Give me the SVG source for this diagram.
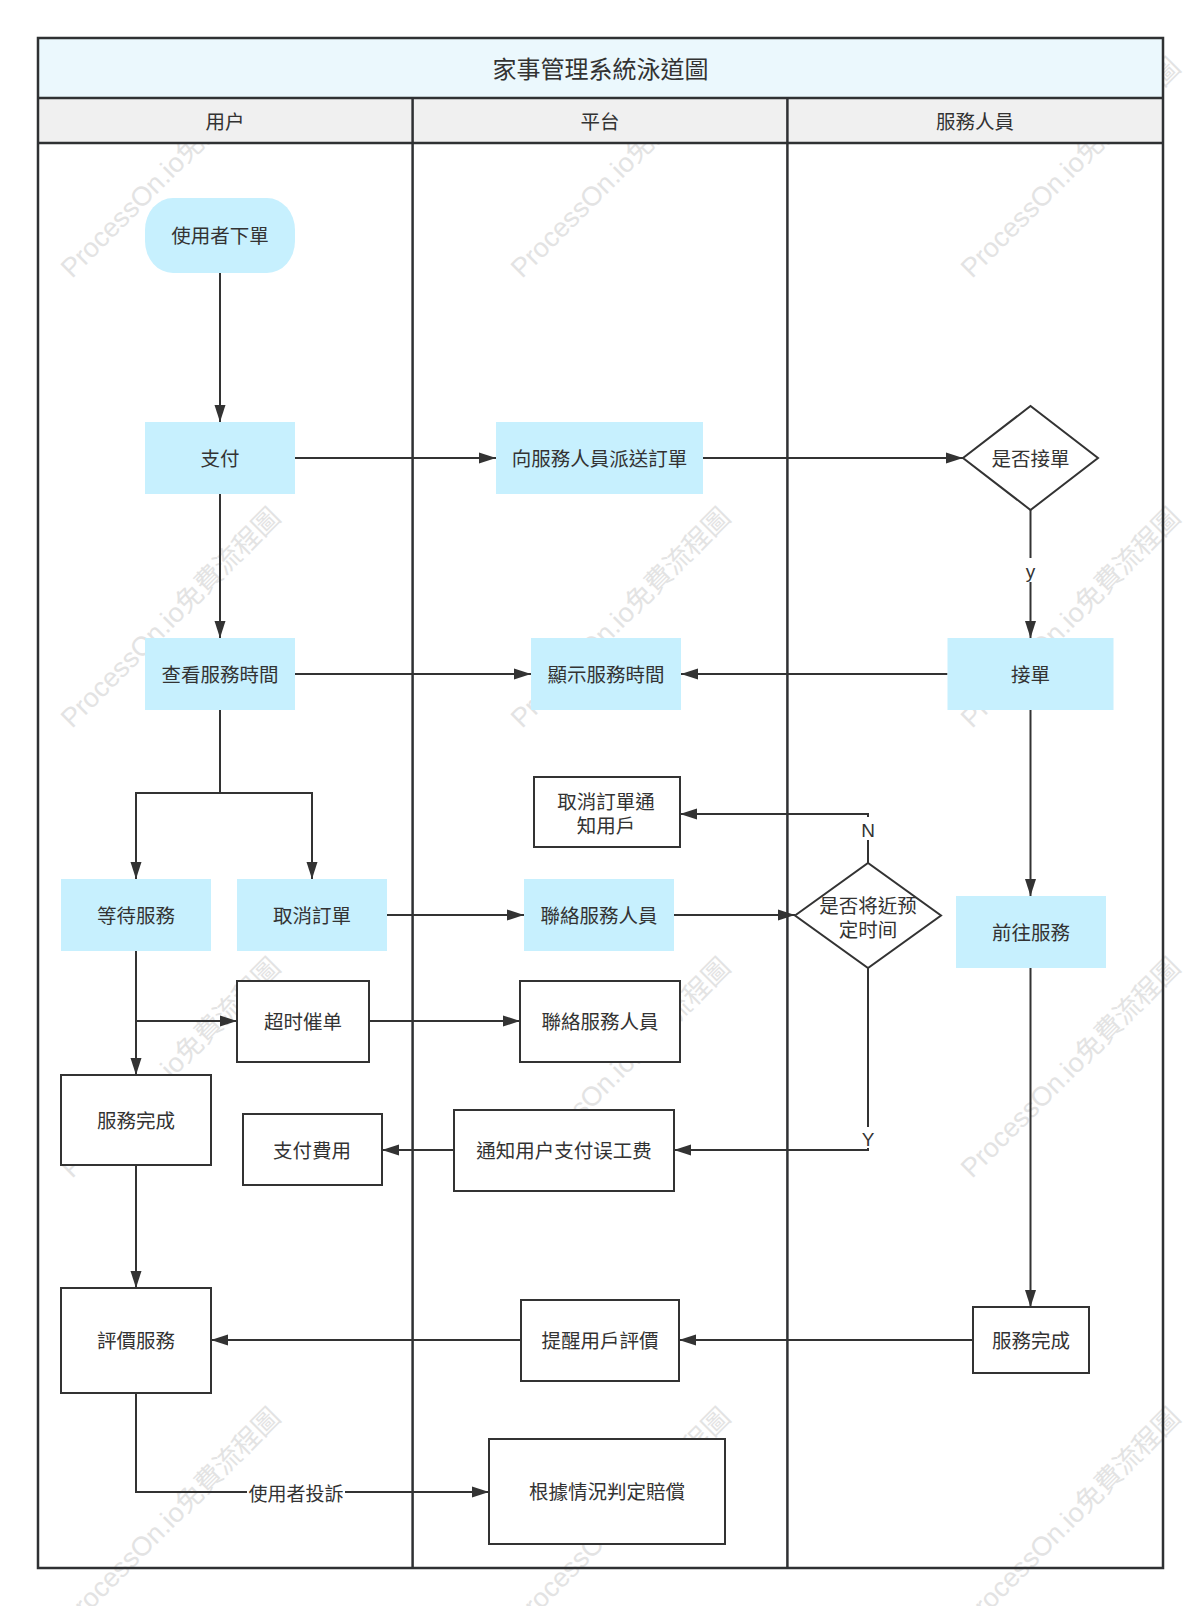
<svg xmlns="http://www.w3.org/2000/svg" width="1200" height="1606" viewBox="0 0 1200 1606">
<defs>
<style>
.frame{fill:none;stroke:#2f3133;stroke-width:2.5}
.edge{fill:none;stroke:#333;stroke-width:2;marker-end:url(#arrow)}
.cyan{fill:#C7F0FE}
.box{fill:#fff;stroke:#333;stroke-width:2}
.t{font-family:"Liberation Sans","Noto Sans CJK TC",sans-serif;font-size:19.5px;fill:#333;text-anchor:middle;dominant-baseline:central;transform:translateY(1px)}
.title{font-size:24px}
.lbl{font-size:19px}
.wm{font-family:"Liberation Sans","Noto Sans CJK TC",sans-serif;font-size:27px;fill:#e3e3e3}
</style>
<marker id="arrow" markerUnits="userSpaceOnUse" markerWidth="18" markerHeight="12" refX="17" refY="6" orient="auto">
<path d="M0,0.5 L17,6 L0,11.5 z" fill="#333"/>
</marker>
</defs>
<rect x="0" y="0" width="1200" height="1606" fill="#fff"/>
<g id="watermark">
<text class="wm" x="72" y="279" transform="rotate(-45 72 279)">ProcessOn.io免費流程圖</text>
<text class="wm" x="522" y="279" transform="rotate(-45 522 279)">ProcessOn.io免費流程圖</text>
<text class="wm" x="972" y="279" transform="rotate(-45 972 279)">ProcessOn.io免費流程圖</text>
<text class="wm" x="72" y="729" transform="rotate(-45 72 729)">ProcessOn.io免費流程圖</text>
<text class="wm" x="522" y="729" transform="rotate(-45 522 729)">ProcessOn.io免費流程圖</text>
<text class="wm" x="972" y="729" transform="rotate(-45 972 729)">ProcessOn.io免費流程圖</text>
<text class="wm" x="72" y="1179" transform="rotate(-45 72 1179)">ProcessOn.io免費流程圖</text>
<text class="wm" x="522" y="1179" transform="rotate(-45 522 1179)">ProcessOn.io免費流程圖</text>
<text class="wm" x="972" y="1179" transform="rotate(-45 972 1179)">ProcessOn.io免費流程圖</text>
<text class="wm" x="72" y="1629" transform="rotate(-45 72 1629)">ProcessOn.io免費流程圖</text>
<text class="wm" x="522" y="1629" transform="rotate(-45 522 1629)">ProcessOn.io免費流程圖</text>
<text class="wm" x="972" y="1629" transform="rotate(-45 972 1629)">ProcessOn.io免費流程圖</text>
</g>
<g id="swimlane">
<rect x="38" y="38" width="1125" height="60" fill="#EBF8FD"/>
<rect x="38" y="98" width="1125" height="45" fill="#F0F0F0"/>
<rect class="frame" x="38" y="38" width="1125" height="1530"/>
<line class="frame" x1="38" y1="98" x2="1163" y2="98"/>
<line class="frame" x1="38" y1="143" x2="1163" y2="143"/>
<line class="frame" x1="412.6" y1="98" x2="412.6" y2="1568"/>
<line class="frame" x1="787.4" y1="98" x2="787.4" y2="1568"/>
<text class="t title" x="600.5" y="68">家事管理系統泳道圖</text>
<text class="t" x="225" y="120.5">用户</text>
<text class="t" x="600" y="120.5">平台</text>
<text class="t" x="975" y="120.5">服務人員</text>
</g>
<g id="connectors">
<line class="edge" x1="220" y1="273" x2="220" y2="422"/>
<line class="edge" x1="220" y1="494" x2="220" y2="638"/>
<line class="edge" x1="295" y1="458" x2="496" y2="458"/>
<line class="edge" x1="703" y1="458" x2="963" y2="458"/>
<line class="edge" x1="1030.5" y1="510" x2="1030.5" y2="638"/>
<rect x="1022" y="558" width="17" height="24" fill="#fff"/>
<text class="t lbl" x="1030.5" y="570">y</text>
<line class="edge" x1="295" y1="674" x2="531" y2="674"/>
<line class="edge" x1="947.5" y1="674" x2="681" y2="674"/>
<path class="edge" d="M220,710 V793 H136 V879"/>
<path class="edge" d="M220,793 H312 V879"/>
<line class="edge" x1="387" y1="915" x2="524" y2="915"/>
<line class="edge" x1="674" y1="915" x2="795" y2="915"/>
<path class="edge" d="M868,863 V814 H680"/>
<rect x="859" y="817" width="18" height="23" fill="#fff"/>
<text class="t lbl" x="868" y="829">N</text>
<path class="edge" d="M868,968 V1150 H674"/>
<rect x="859" y="1127" width="18" height="21" fill="#fff"/>
<text class="t lbl" x="868" y="1138">Y</text>
<line class="edge" x1="1030.5" y1="710" x2="1030.5" y2="896"/>
<line class="edge" x1="136" y1="951" x2="136" y2="1075"/>
<line class="edge" x1="136" y1="1021" x2="237" y2="1021"/>
<line class="edge" x1="369" y1="1021" x2="520" y2="1021"/>
<line class="edge" x1="454" y1="1150" x2="382" y2="1150"/>
<line class="edge" x1="136" y1="1165" x2="136" y2="1288"/>
<line class="edge" x1="1030.5" y1="968" x2="1030.5" y2="1307"/>
<line class="edge" x1="973" y1="1340" x2="679" y2="1340"/>
<line class="edge" x1="521" y1="1340" x2="211" y2="1340"/>
<path class="edge" d="M136,1393 V1492 H489"/>
<rect x="247" y="1480" width="98" height="24" fill="#fff"/>
<text class="t lbl" x="296" y="1493">使用者投訴</text>
</g>
<g id="n-order"><rect class="cyan" x="145" y="198" width="150" height="75" rx="28" ry="32"/><text class="t" x="220" y="235">使用者下單</text></g>
<g id="n-pay"><rect class="cyan" x="145" y="422" width="150" height="72"/><text class="t" x="220" y="458">支付</text></g>
<g id="n-check-time"><rect class="cyan" x="145" y="638" width="150" height="72"/><text class="t" x="220" y="674">查看服務時間</text></g>
<g id="n-dispatch"><rect class="cyan" x="496" y="422" width="207" height="72"/><text class="t" x="599.5" y="458">向服務人員派送訂單</text></g>
<g id="n-accept-q"><polygon class="box" points="963,458 1030.5,406 1098,458 1030.5,510"/><text class="t" x="1030.5" y="458">是否接單</text></g>
<g id="n-accept"><rect class="cyan" x="947.5" y="638" width="166" height="72"/><text class="t" x="1030.5" y="674">接單</text></g>
<g id="n-show-time"><rect class="cyan" x="531" y="638" width="150" height="72"/><text class="t" x="606" y="674">顯示服務時間</text></g>
<g id="n-cancel-notify"><rect class="box" x="534" y="777" width="146" height="70"/><text class="t" x="606" y="801">取消訂單通</text><text class="t" x="606" y="825">知用戶</text></g>
<g id="n-wait"><rect class="cyan" x="61" y="879" width="150" height="72"/><text class="t" x="136" y="915">等待服務</text></g>
<g id="n-cancel"><rect class="cyan" x="237" y="879" width="150" height="72"/><text class="t" x="312" y="915">取消訂單</text></g>
<g id="n-contact1"><rect class="cyan" x="524" y="879" width="150" height="72"/><text class="t" x="599" y="915">聯絡服務人員</text></g>
<g id="n-near-q"><polygon class="box" points="795,915.5 868,863 941,915.5 868,968"/><text class="t" x="868" y="905">是否将近预</text><text class="t" x="868" y="929">定时间</text></g>
<g id="n-goto"><rect class="cyan" x="956" y="896" width="150" height="72"/><text class="t" x="1031" y="932">前往服務</text></g>
<g id="n-urge"><rect class="box" x="237" y="981" width="132" height="81"/><text class="t" x="303" y="1021">超时催单</text></g>
<g id="n-contact2"><rect class="box" x="520" y="981" width="160" height="81"/><text class="t" x="600" y="1021">聯絡服務人員</text></g>
<g id="n-done-user"><rect class="box" x="61" y="1075" width="150" height="90"/><text class="t" x="136" y="1120">服務完成</text></g>
<g id="n-pay-fee"><rect class="box" x="243" y="1114" width="139" height="71"/><text class="t" x="312" y="1150">支付費用</text></g>
<g id="n-notify-fee"><rect class="box" x="454" y="1110" width="220" height="81"/><text class="t" x="564" y="1150">通知用户支付误工费</text></g>
<g id="n-rate"><rect class="box" x="61" y="1288" width="150" height="105"/><text class="t" x="136" y="1340">評價服務</text></g>
<g id="n-remind"><rect class="box" x="521" y="1300" width="158" height="81"/><text class="t" x="600" y="1340">提醒用戶評價</text></g>
<g id="n-done-staff"><rect class="box" x="973" y="1307" width="116" height="66"/><text class="t" x="1031" y="1340">服務完成</text></g>
<g id="n-compensate"><rect class="box" x="489" y="1439" width="236" height="105"/><text class="t" x="607" y="1491">根據情況判定賠償</text></g>
</svg>
